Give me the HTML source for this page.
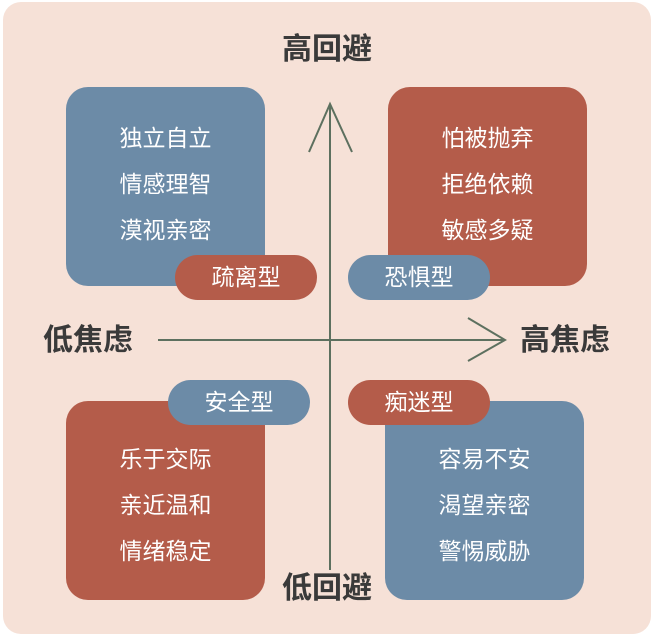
<!DOCTYPE html>
<html><head><meta charset="utf-8"><style>
body{margin:0;width:654px;height:638px;background:#fff;position:relative;overflow:hidden;font-family:"Liberation Sans","Noto Sans CJK SC",sans-serif}
.card{position:absolute;left:3px;top:2px;width:648px;height:632px;border-radius:18px;background:#f6e1d7}
.box{position:absolute;width:199px;height:199px;border-radius:22px;color:#fff;font-size:23px;line-height:46px;text-align:center;box-sizing:border-box;padding-top:28px}
.pill{position:absolute;width:142px;height:45px;border-radius:23px;color:#fff;font-size:23px;line-height:45px;text-align:center}
.b{background:#6c8ba7}.r{background:#b45c4a}
.lab{position:absolute;font-size:30px;font-weight:bold;color:#3a3a3a;line-height:34px}
</style></head><body>
<div class="card"></div>
<svg style="position:absolute;left:0;top:0" width="654" height="638">
<line x1="330" y1="104" x2="330" y2="570" stroke="#5d705f" stroke-width="2"/>
<polyline points="309,152 330,104 352,152" fill="none" stroke="#5d705f" stroke-width="2"/>
<line x1="158" y1="340" x2="505" y2="340" stroke="#5d705f" stroke-width="2"/>
<polyline points="468,318 505,340 468,361" fill="none" stroke="#5d705f" stroke-width="2"/>
</svg>
<div class="lab" style="left:282px;top:33px">高回避</div>
<div class="lab" style="left:282px;top:572px">低回避</div>
<div class="lab" style="left:43px;top:324px">低焦虑</div>
<div class="lab" style="left:520px;top:324px">高焦虑</div>
<div class="box b" style="left:66px;top:87px">独立自立<br>情感理智<br>漠视亲密</div>
<div class="box r" style="left:388px;top:87px">怕被抛弃<br>拒绝依赖<br>敏感多疑</div>
<div class="box r" style="left:66px;top:401px;padding-top:35px">乐于交际<br>亲近温和<br>情绪稳定</div>
<div class="box b" style="left:385px;top:401px;padding-top:35px">容易不安<br>渴望亲密<br>警惕威胁</div>
<div class="pill r" style="left:175px;top:255px">疏离型</div>
<div class="pill b" style="left:348px;top:255px">恐惧型</div>
<div class="pill b" style="left:168px;top:380px">安全型</div>
<div class="pill r" style="left:348px;top:380px">痴迷型</div>
</body></html>
